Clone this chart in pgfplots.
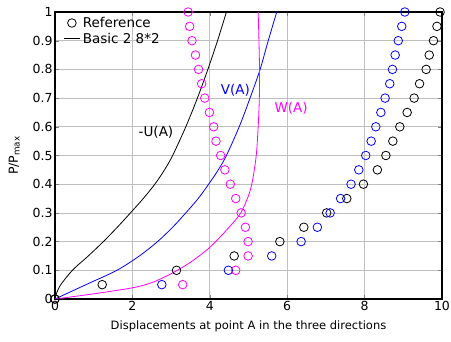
\documentclass[border=0pt]{standalone}
\usepackage{pgfplots}
\pgfplotsset{compat=1.18}
\usepackage{fontspec}
\setmainfont{DejaVu Sans}
\definecolor{mmag}{RGB}{255,0,255}
\definecolor{mblue}{RGB}{0,0,255}
\begin{document}
\begin{tikzpicture}
\begin{axis}[
  at={(0,0)}, anchor=south west,
  scale only axis, width=387pt, height=287pt,
  xmin=0, xmax=10, ymin=0, ymax=1,
  xtick={0,2,4,6,8,10},
  ytick={0,0.1,0.2,0.3,0.4,0.5,0.6,0.7,0.8,0.9,1},
  yticklabels={0,0.1,0.2,0.3,0.4,0.5,0.6,0.7,0.8,0.9,1},
  /pgf/number format/assume math mode=true,
  tick label style={font=\fontsize{12.5}{14}\selectfont},
  xticklabel style={yshift=1pt},
  yticklabel style={xshift=1pt},
  tick align=inside, major tick length=4pt,
  axis line style={line width=1.2pt},
  xmajorgrids=true, ymajorgrids=true,
  grid style={black!25, line width=0.6pt},
  xlabel={Displacements at point A in the three directions},
  xlabel style={font=\fontsize{11.5}{13}\selectfont, yshift=-3pt},
  ylabel={P/P\textsubscript{max}},
  ylabel style={font=\fontsize{12.5}{14}\selectfont, yshift=6pt},
  legend style={draw=none, fill=none, at={(0.015,0.995)}, anchor=north west,
    font=\fontsize{13.5}{15}\selectfont, row sep=1pt,
    nodes={inner xsep=3pt, inner ysep=1.5pt}},
  legend image code/.code={\draw[solid, mark repeat=2,mark phase=2,#1] plot coordinates {(0pt,0pt)(7.5pt,0pt)(15pt,0pt)};},
  legend cell align=left,
]
\addplot[only marks, mark=o, mark size=4.3pt, black, line width=0.8pt] coordinates {
(0,0) (1.22,0.05) (3.14,0.1) (4.63,0.15) (5.81,0.2) (6.43,0.25) (7.02,0.3)
(7.54,0.35) (7.97,0.4) (8.33,0.45) (8.55,0.5) (8.73,0.55) (8.91,0.6)
(9.10,0.65) (9.28,0.7) (9.42,0.75) (9.59,0.8) (9.67,0.85) (9.78,0.9)
(9.87,0.95) (9.95,1.0)};
\addlegendentry{Reference}
\addplot[black, line width=0.8pt, smooth] coordinates {
(0,0) (0.04,0.02) (0.15,0.05) (0.45,0.1) (0.86,0.15) (1.25,0.2) (1.61,0.25)
(1.95,0.3) (2.28,0.35) (2.58,0.4) (2.83,0.45) (3.04,0.5) (3.38,0.6) (3.68,0.7)
(3.95,0.8) (4.20,0.9) (4.43,1.0)};
\addlegendentry{Basic 2 8*2}
\addplot[forget plot, only marks, mark=o, mark size=4.3pt, mblue, line width=0.8pt] coordinates {
(2.76,0.05) (4.48,0.1) (5.60,0.15) (6.36,0.2) (6.78,0.25) (7.11,0.3)
(7.38,0.35) (7.65,0.4) (7.85,0.45) (8.03,0.5) (8.17,0.55) (8.29,0.6)
(8.42,0.65) (8.53,0.7) (8.65,0.75) (8.72,0.8) (8.79,0.85) (8.87,0.9)
(8.96,0.95) (9.04,1.0)};
\addplot[forget plot, only marks, mark=o, mark size=4.3pt, mmag, line width=0.8pt] coordinates {
(3.30,0.05) (4.67,0.1) (4.99,0.15) (4.99,0.2) (4.92,0.25) (4.81,0.3)
(4.67,0.35) (4.53,0.4) (4.39,0.45) (4.28,0.5) (4.16,0.55) (4.10,0.6)
(3.99,0.65) (3.87,0.7) (3.79,0.75) (3.71,0.8) (3.63,0.85) (3.54,0.9)
(3.48,0.95) (3.44,1.0)};
\addplot[forget plot, mblue, line width=0.8pt, smooth] coordinates {
(0,0) (0.4,0.025) (0.8,0.05) (1.6,0.1) (2.18,0.15) (2.65,0.2) (3.04,0.25)
(3.38,0.3) (3.70,0.35) (3.97,0.4) (4.22,0.45) (4.43,0.5) (4.76,0.6)
(5.04,0.7) (5.30,0.8) (5.51,0.9) (5.73,1.0)};
\addplot[forget plot, mmag, line width=0.8pt, smooth] coordinates {
(0,0) (1.0,0.018) (2.0,0.039) (2.5,0.057) (3.0,0.088) (3.5,0.128)
(4.0,0.18) (4.5,0.25) (4.8,0.30) (5.0,0.36) (5.1,0.41) (5.2,0.5)
(5.25,0.6) (5.28,0.7) (5.285,0.8) (5.27,0.9) (5.25,1.0)};
\addplot[forget plot, only marks, mark=o, mark size=4.3pt, black, line width=0.8pt] coordinates {(0,0)};
\node[black, font=\fontsize{13.5}{15}\selectfont] at (axis cs:2.61,0.58) {-U(A)};
\node[mblue, font=\fontsize{13.5}{15}\selectfont] at (axis cs:4.66,0.728) {V(A)};
\node[mmag, font=\fontsize{13.5}{15}\selectfont] at (axis cs:6.10,0.663) {W(A)};
\end{axis}
\pgfresetboundingbox
\path[use as bounding box] (-55pt,-43pt) rectangle (396pt,299pt);
\end{tikzpicture}
\end{document}
